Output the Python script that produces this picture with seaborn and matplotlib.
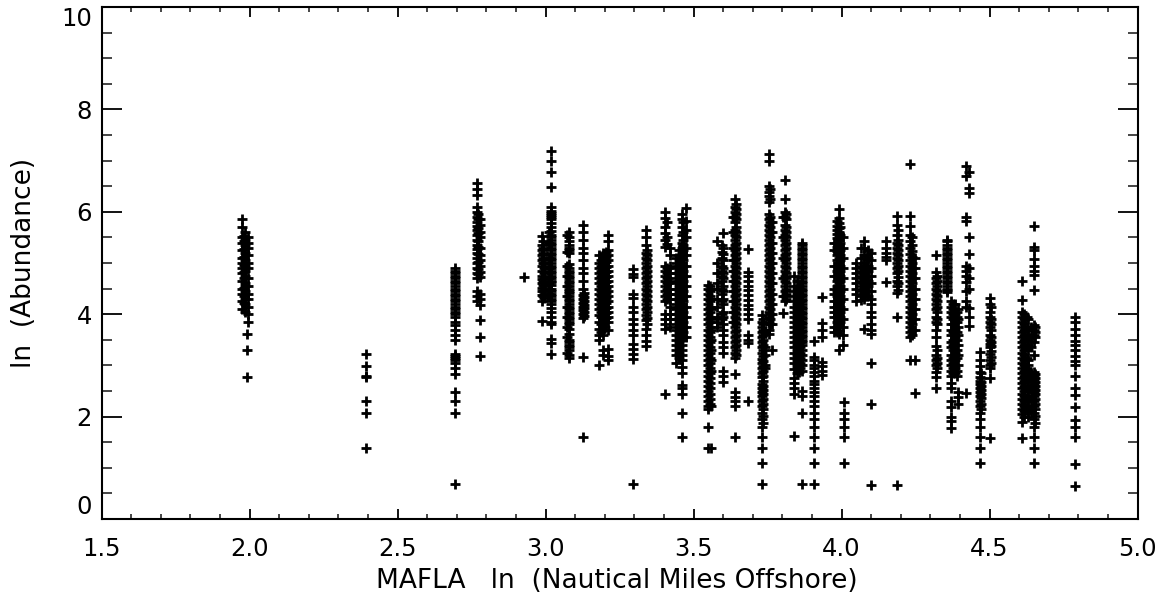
import matplotlib
matplotlib.use("Agg")
import matplotlib.pyplot as plt
import pandas as pd
import seaborn as sns
from matplotlib.ticker import MultipleLocator

# Each column: (ln nautical miles offshore, ln abundance values)
c01 = (1.975, [5.85,5.7,5.5,5.4,5.25,5.1,5.0,4.9,4.8,4.65,4.5,4.4,4.25,4.1])
c02 = (1.985, [5.6,5.45,5.35,5.2,5.05,4.95,4.85,4.75,4.6,4.55,4.45,4.3,4.2,4.05])
c03 = (1.995, [5.5,5.4,5.3,5.15,5.0,4.9,4.7,4.55,4.4,4.3,4.15,4.0,3.85])
c04 = (1.99, [3.62,3.3,2.77])
c05 = (2.394, [3.22,2.99,2.8,2.77,2.3,2.08,1.39])
c06 = (2.695, [4.9,4.85,4.8,4.75,4.7,4.65,4.6,4.55,4.5,4.45,4.4,4.35,4.3,4.25,4.2,4.15,4.1,4.05,4.0,3.95,3.85,3.78,3.7,3.6,3.5,3.22,3.18,3.14,3.1,3.04,2.94,2.83,2.48,2.3,2.08,0.69])
c07 = (2.77, [6.56,6.44,6.33,6.1,6.0,5.9,5.8,5.72,5.65,5.55,5.45,5.35,5.28,5.2,5.1,5.0,4.9,4.8,4.7,4.45,4.35,4.25])
c08 = (2.78, [5.85,5.75,5.6,5.5,5.3,5.15,5.05,4.95,4.82,4.72,4.4,4.3,4.18,3.88,3.56,3.18])
c09 = (2.926, [4.72])
c10 = (2.987, [5.52,5.35,5.25,5.15,5.05,4.95,4.85,4.75,4.68,4.6,4.52,4.45,4.38,4.25,3.86])
c11 = (2.995, [5.0,4.9,4.8,4.7,4.62,4.55,4.48,4.4,4.32])
c12 = (3.02, [7.18,6.99,6.78,6.48,6.1,6.02,5.93,5.85,5.7,5.55,5.45,5.35,5.25,5.15,5.05,4.95,4.85,4.75,4.65,4.58,4.5,4.4,4.3,4.2,4.05,3.85,3.8,3.51,3.44,3.23])
c13 = (3.012, [5.6,5.4,5.1,4.9,4.7,4.6,4.5,4.4])
c14 = (3.078, [5.6,5.5,5.42,5.3,5.2,4.98,4.9,4.8,4.7,4.6,4.5,4.42,4.3,4.2,4.1,4.0,3.9,3.8,3.72,3.62,3.5,3.4,3.3,3.2,3.15])
c15 = (3.072, [5.55,5.22,4.95,4.75,4.55,4.35,4.15,3.95,3.75,3.55,3.25])
c16 = (3.126, [5.75,5.6,5.45,5.3,5.2,5.05,4.9,4.8,4.65,4.5,4.38,4.3,4.22,4.15,4.08,4.0,3.92,3.16,1.6])
c17 = (3.18, [5.15,5.0,4.9,4.8,4.7,4.6,4.5,4.4,4.3,4.2,4.1,3.98,3.85,3.72,3.6,3.5,3.0])
c18 = (3.195, [5.2,5.1,5.0,4.9,4.8,4.7,4.6,4.5,4.4,4.3,4.2,4.1,4.0,3.9,3.8,3.7,3.6,3.3,3.2])
c19 = (3.21, [5.55,5.42,5.25,5.15,5.05,4.95,4.85,4.75,4.65,4.55,4.45,4.35,4.25,4.15,4.05,3.95,3.85,3.7,3.32,3.18,3.1])
c20 = (3.297, [4.88,4.78,4.72,4.4,4.32,4.15,4.05,3.9,3.8,3.7,3.6,3.42,3.32,3.22,3.12,0.69])
c21 = (3.34, [5.65,5.5,5.35,5.2,5.1,5.0,4.9,4.8,4.7,4.6,4.5,4.4,4.3,4.2,4.1,3.98,3.88,3.72,3.6,3.48,3.38])
c22 = (3.403, [6.0,5.88,5.7,5.58,5.45,5.32,4.95,4.85,4.75,4.65,4.55,4.45,4.35,4.25,4.0,3.9,3.8,3.72,2.45])
c23 = (3.42, [5.3,5.15,4.95,4.8,4.65,4.5,4.4,4.3,4.15,4.0,3.9,3.75])
c24 = (3.44, [5.1,5.0,4.9,4.8,4.7,4.6,4.5,4.4,4.3,4.2,4.1,4.0,3.9,3.8,3.7,3.6,3.5,3.4,3.3,3.2,3.05])
c25 = (3.46, [5.95,5.85,5.7,5.55,5.4,5.3,5.2,5.1,5.0,4.9,4.8,4.7,4.6,4.5,4.4,4.3,4.2,4.1,4.0,3.9,3.8,3.7,3.6,3.5,3.4,3.3,3.2,3.1,2.97,2.85,2.62,2.55,2.45,2.08,1.6])
c26 = (3.475, [6.08,5.82,5.65,5.5,5.3,5.15,4.95,4.75,4.55,4.35,4.15,3.95,3.75,3.55])
c27 = (3.55, [4.58,4.5,4.4,4.3,4.2,4.1,4.0,3.9,3.8,3.7,3.6,3.5,3.4,3.3,3.2,3.1,3.0,2.9,2.8,2.7,2.6,2.5,2.4,2.3,2.2,2.15,1.8,1.39])
c28 = (3.56, [4.5,4.3,4.1,3.9,3.7,3.5,3.3,3.1,2.9,2.2,1.39])
c29 = (3.58, [5.42,5.0,4.8,4.6,4.5,4.3,4.15,3.95,3.85,3.75])
c30 = (3.6, [5.58,5.3,5.18,5.05,4.9,4.8,4.7,4.55,4.45,4.3,4.2,4.05,3.95,3.8,3.7,3.6,3.45,3.35,3.25,2.9,2.8,2.68])
c31 = (3.64, [6.25,6.1,6.0,5.9,5.8,5.65,5.55,5.45,5.35,5.25,5.15,5.05,4.95,4.85,4.75,4.65,4.55,4.45,4.35,4.25,4.15,4.05,3.95,3.85,3.75,3.65,3.55,3.45,3.35,3.25,3.14,2.83,2.48,2.38,2.3,2.2,1.6])
c32 = (3.632, [5.9,5.6,5.3,5.05,4.85,4.65,4.45,4.25,4.05,3.85])
c33 = (3.685, [5.28,4.83,4.75,4.65,4.55,4.48,4.38,4.28,4.18,4.1,4.0,3.9,3.6,3.5,3.43,2.3])
c34 = (3.733, [3.98,3.85,3.75,3.65,3.55,3.45,3.35,3.25,3.12,3.04,2.94,2.85,2.77,2.64,2.56,2.48,2.4,2.3,2.2,2.08,1.95,1.79,1.61,1.39,1.1,0.69])
c35 = (3.74, [3.65,3.35,3.2,3.0,2.95])
c36 = (3.755, [7.12,6.99,6.5,6.38,6.3,6.2,5.95,5.85,5.75,5.65,5.55,5.45,5.35,5.25,5.15,5.05,4.95,4.85,4.75,4.65,4.55,4.45,4.35,4.25,4.15,4.05,3.95,3.85,3.7,3.62])
c37 = (3.765, [5.8,5.6,5.4,5.2,5.0,4.8,4.6,4.4,4.2,4.0,3.8,3.3])
c38 = (3.81, [6.62,6.25,6.0,5.9,5.75,5.65,5.55,5.45,5.35,5.25,5.15,5.05,4.95,4.85,4.75,4.65,4.55,4.45,4.35,4.25])
c39 = (3.802, [5.9,5.5,5.1,4.7,4.35,4.02])
c40 = (3.84, [4.75,4.55,4.45,4.35,4.25,4.15,4.05,3.95,3.85,3.75,3.65,3.55,3.45,3.35,3.25,3.15,3.05,2.92,2.75,2.65,2.55,2.45,1.62])
c41 = (3.855, [4.55,4.4,4.2,4.0,3.8,3.6,3.4,3.2,3.0,2.88])
c42 = (3.866, [5.4,5.3,5.2,5.1,5.0,4.9,4.8,4.7,4.6,4.5,4.4,4.3,4.2,4.1,4.0,3.9,3.8,3.7,3.6,3.5,3.4,3.3,3.2,3.1,3.0,2.9,2.5,2.4,2.08,0.69])
c43 = (3.907, [3.47,3.17,3.1,3.0,2.94,2.88,2.8,2.7,2.64,2.56,2.48,2.4,2.3,2.2,2.08,1.95,1.79,1.61,1.39,1.1,0.69])
c44 = (3.935, [4.33,3.83,3.7,3.56,3.07,2.98,2.9,2.81])
c45 = (3.975, [5.4,5.25,4.95,4.75,4.5,4.4,4.25,4.15,4.05,3.95,3.75,3.65])
c46 = (3.99, [6.05,5.88,5.78,5.68,5.6,5.52,5.44,5.36,5.28,5.2,5.1,5.0,4.9,4.8,4.7,4.6,4.5,4.4,4.3,4.2,4.1,4.0,3.9,3.8,3.7,3.62,3.3])
c47 = (4.005, [5.5,5.3,5.1,4.9,4.7,4.5,4.3,4.1,3.9,3.75,3.6,3.4])
c48 = (4.008, [2.28,2.08,1.95,1.79,1.6,1.1])
c49 = (4.05, [5.0,4.9,4.8,4.7,4.6,4.5,4.4,4.25])
c50 = (4.075, [5.42,5.3,5.15,5.0,4.9,4.8,4.7,4.6,4.5,4.4,4.3,3.72])
c51 = (4.09, [5.25,5.1,4.95,4.85,4.75,4.65,4.55,4.45,4.35])
c52 = (4.1, [5.2,5.05,4.9,4.75,4.6,4.45,4.3,4.2,4.05,3.95,3.8,3.7,3.62,3.05,2.25,0.67])
c53 = (4.149, [5.42,5.3,5.2,5.12,5.05,4.62])
c54 = (4.188, [5.92,5.75,5.55,5.4,5.3,5.2,5.1,5.0,4.9,4.8,4.65,4.55,4.42,3.94,0.67])
c55 = (4.233, [6.93,5.92,5.72,5.55,5.42,5.3,5.18,5.05,4.95,4.85,4.75,4.65,4.55,4.45,4.35,4.25,4.15,4.05,3.95,3.85,3.75,3.65,3.55,3.1])
c56 = (4.247, [5.1,4.9,4.7,4.5,4.3,4.1,3.9,3.7,3.1,2.46])
c57 = (4.32, [5.15,4.82,4.7,4.6,4.5,4.4,4.3,4.2,4.1,3.95,3.85,3.7,3.55,3.37,3.2,3.1,3.0,2.88,2.78,2.55])
c58 = (4.357, [5.42,5.3,5.2,5.1,5.0,4.9,4.8,4.7,4.6,4.5,4.44])
c59 = (4.37, [4.25,4.15,4.05,3.95,3.8,3.7,3.6,3.45,3.35,3.2,3.1,3.0,2.9,2.8,2.65,2.55,2.3,2.18,2.0,1.92,1.77])
c60 = (4.385, [4.2,4.0,3.85,3.7,3.55,3.4,3.25,3.1,2.95,2.85])
c61 = (4.395, [4.1,3.9,3.75,3.6,3.4,3.2,3.0,2.48,2.38,2.25])
c62 = (4.42, [6.9,6.7,5.9,5.82,4.95,4.85,4.75,4.62,4.45,4.25,4.15,2.46])
c63 = (4.43, [6.78,6.47,6.37,5.5,5.18,4.9,4.7,4.5,4.12,3.95,3.76])
c64 = (4.467, [3.27,3.1,2.98,2.88,2.77,2.7,2.64,2.56,2.48,2.4,2.3,2.2,2.08,1.95,1.79,1.61,1.39,1.1])
c65 = (4.503, [4.32,4.2,4.05,3.95,3.85,3.75,3.6,3.5,3.42,3.35,3.22,3.1,3.0,2.94,2.75,1.59])
c66 = (4.61, [4.64,4.28,4.05,3.95,3.85,3.75,3.65,3.55,3.45,3.35,3.25,3.15,3.05,2.95,2.85,2.75,2.65,2.55,2.45,2.35,2.25,2.15,2.05,1.9,1.59])
c67 = (4.625, [3.95,3.75,3.55,3.35,3.15,2.95,2.75,2.55,2.35,2.15])
c68 = (4.65, [5.72,5.32,5.26,5.07,4.95,4.85,4.77,4.48,3.79,3.7,3.6,3.46,3.2,2.88,2.8,2.72,2.64,2.56,2.48,2.4,2.3,2.2,2.08,1.95,1.79,1.61,1.39,1.1])
c69 = (4.64, [3.75,3.55,3.35,2.85,2.7,2.5,2.3,2.1])
c70 = (4.79, [3.95,3.85,3.72,3.6,3.48,3.4,3.3,3.18,3.08,3.0,2.8,2.55,2.42,2.18,1.93,1.79,1.61,1.08,0.65])

# Further stations read from the solid parts of the densest stacks
d01 = (1.98, [5.52,5.42,5.28,5.12,4.97,4.82,4.7,4.52,4.35,4.22])
d02 = (2.772, [5.95,5.85,5.68,5.58,5.42,5.32,5.18,5.02,4.88,4.78])
d03 = (2.992, [5.42,5.3,5.2,5.1,5.0,4.65,4.57,4.45,4.35])
d04 = (3.018, [5.98,5.9,5.78,5.62,5.5,5.4,5.3,5.2,5.1,5.0,4.9,4.8,4.7,4.62,4.45,4.35,4.25,4.12,3.95])
d05 = (3.08, [5.35,5.25,4.85,4.75,4.65,4.55,4.45,4.35,4.25,4.15,4.05,3.95,3.85,3.45,3.35])
d06 = (3.13, [4.42,4.34,4.26,4.18,4.12,4.04,3.96])
d07 = (3.188, [5.05,4.95,4.85,4.75,4.65,4.55,4.45,4.35,4.25,4.15,4.05,3.95,3.8,3.65])
d08 = (3.2, [5.15,5.05,4.95,4.85,4.75,4.65,4.55,4.45,4.35,4.25,4.15,4.05,3.95,3.85,3.75])
d09 = (3.205, [5.22,5.12,5.02,4.92,4.82,4.72,4.62,4.52,4.42,4.32,4.22,4.12,4.02,3.92])
d10 = (3.342, [5.25,5.15,5.05,4.95,4.85,4.75,4.65,4.55,4.45,4.35,4.25,4.15,4.05,3.93,3.8])
d11 = (3.41, [4.9,4.8,4.7,4.6,4.5,4.4,4.3,5.8,5.5,5.38])
d12 = (3.45, [5.25,5.15,5.05,4.95,4.85,4.75,4.65,4.55,4.45,4.35,4.25,4.15,4.05,3.95,3.85,3.75,3.65,3.55,3.45,3.35,3.25,3.15])
d13 = (3.465, [5.8,5.6,5.45,5.35,5.25,5.15,5.05,4.95,4.85,4.75,4.65,4.55,4.45,4.35,4.25,4.15,4.05,3.95,3.85,3.75,3.65,3.55])
d14 = (3.555, [4.55,4.45,4.35,4.25,4.15,4.05,3.95,3.85,3.75,3.65,3.55,3.45,3.35,3.25,3.15,3.05,2.95,2.85,2.75,2.65,2.55,2.45,2.35,2.25])
d15 = (3.595, [5.35,5.22,5.1,4.95,4.85,4.75,4.65,4.5,4.4,4.25,4.0,3.9])
d16 = (3.645, [6.15,6.05,5.95,5.85,5.7,5.6,5.5,5.4,5.3,5.2,5.1,5.0,4.9,4.8,4.7,4.6,4.5,4.4,4.3,4.2,4.1,4.0,3.9,3.8,3.7,3.6,3.5,3.4,3.3,3.2])
d17 = (3.735, [3.9,3.8,3.7,3.6,3.5,3.4,3.3,3.18,3.08,2.98,2.9,2.8,2.7,2.6,2.52,2.44,2.35,2.25,2.14,2.02,1.87])
d18 = (3.758, [5.9,5.8,5.7,5.6,5.5,5.4,5.3,5.2,5.1,5.0,4.9,4.8,4.7,4.6,4.5,4.4,4.3,4.2,4.1,4.0,3.9,3.8,6.45,6.25])
d19 = (3.812, [5.95,5.85,5.7,5.6,5.5,5.4,5.3,5.2,5.1,5.0,4.9,4.8,4.7,4.6,4.5,4.4,4.3])
d20 = (3.848, [4.65,4.5,4.4,4.3,4.2,4.1,4.0,3.9,3.8,3.7,3.6,3.5,3.4,3.3,3.2,3.1,3.0,2.95,2.85])
d21 = (3.86, [4.5,4.35,4.25,4.15,4.05,3.95,3.85,3.75,3.65,3.55,3.45,3.35,3.25,3.15,3.05,2.95])
d22 = (3.868, [5.35,5.25,5.15,5.05,4.95,4.85,4.75,4.65,4.55,4.45,4.35,4.25,4.15,4.05,3.95,3.85,3.75,3.65,3.55,3.45])
d23 = (3.985, [5.82,5.72,5.64,5.56,5.48,5.4,5.32,5.24,5.15,5.05,4.95,4.85,4.75,4.65,4.55,4.45,4.35,4.25,4.15,4.05,3.95,3.85,3.75,3.65])
d24 = (3.995, [5.7,5.55,5.4,5.25,5.15,5.05,4.95,4.85,4.75,4.65,4.55,4.45,4.35,4.25,4.15,4.05,3.95,3.85])
d25 = (4.065, [5.3,5.1,4.95,4.85,4.75,4.65,4.55,4.45,4.35,4.28])
d26 = (4.085, [5.15,5.05,4.95,4.85,4.75,4.65,4.55,4.45,4.35])
d27 = (4.19, [5.65,5.45,5.35,5.25,5.15,5.05,4.95,4.85,4.72,4.6,4.48])
d28 = (4.238, [5.5,5.36,5.24,5.12,5.0,4.9,4.8,4.7,4.6,4.5,4.4,4.3,4.2,4.1,4.0,3.9,3.8,3.7,3.6])
d29 = (4.322, [4.75,4.65,4.55,4.45,4.35,4.25,4.15,4.05,3.9,3.8,3.3,3.15,3.05,2.95])
d30 = (4.355, [5.35,5.25,5.15,5.05,4.95,4.85,4.75,4.65,4.55,4.47,5.45])
d31 = (4.378, [4.2,4.1,4.0,3.9,3.8,3.65,3.5,3.4,3.3,3.15,3.05,2.95,2.85])
d32 = (4.39, [4.05,3.95,3.85,3.65,3.5,3.3,3.15,2.9,2.8])
d33 = (4.47, [2.85,2.75,2.67,2.6,2.52,2.44,2.36,2.25,2.14])
d34 = (4.505, [4.15,3.9,3.8,3.7,3.55,3.46,3.38,3.28,3.16,3.05])
d35 = (4.615, [4.0,3.9,3.8,3.7,3.6,3.5,3.4,3.3,3.2,3.1,3.0,2.9,2.8,2.7,2.6,2.5,2.4,2.3,2.2,2.1,2.0])
d36 = (4.63, [3.9,3.7,3.6,3.5,3.4,3.3,3.1,3.0,2.9,2.8,2.7,2.6,2.5,2.4,2.3,2.2,2.1,2.0])
d37 = (4.655, [3.75,3.65,3.55,2.84,2.76,2.68,2.6,2.52,2.44,2.35,2.25,2.14,2.02,1.87])

columns = [c01,c02,c03,c04,c05,c06,c07,c08,c09,c10,c11,c12,c13,c14,c15,c16,c17,c18,c19,c20,
           c21,c22,c23,c24,c25,c26,c27,c28,c29,c30,c31,c32,c33,c34,c35,c36,c37,c38,c39,c40,
           c41,c42,c43,c44,c45,c46,c47,c48,c49,c50,c51,c52,c53,c54,c55,c56,c57,c58,c59,c60,
           c61,c62,c63,c64,c65,c66,c67,c68,c69,c70,
           d01,d02,d03,d04,d05,d06,d07,d08,d09,d10,d11,d12,d13,d14,d15,d16,d17,d18,d19,d20,
           d21,d22,d23,d24,d25,d26,d27,d28,d29,d30,d31,d32,d33,d34,d35,d36,d37]

df = pd.DataFrame(
    [(x, y) for x, ys in columns for y in ys], columns=["miles", "abundance"]
)

sns.set_style("white")
plt.rcParams["font.family"] = ["DejaVu Sans"]

W, H = 1165, 601
fig = plt.figure(figsize=(W / 100, H / 100), dpi=100)
ax = fig.add_axes([101.5 / W, 1 - 519 / H, 1036 / W, 512 / H])

sns.scatterplot(data=df, x="miles", y="abundance", marker="+", color="black",
                s=58, linewidth=2.0, ax=ax, clip_on=False, zorder=3)

ax.set_xlim(1.5, 5.0)
ax.set_ylim(0, 10)
ax.xaxis.set_minor_locator(MultipleLocator(0.1))
ax.yaxis.set_minor_locator(MultipleLocator(0.5))
ax.set_xticks([1.5, 2.0, 2.5, 3.0, 3.5, 4.0, 4.5, 5.0])
ax.set_xticklabels(["1.5", "2.0", "2.5", "3.0", "3.5", "4.0", "4.5", "5.0"])
ax.set_yticks([0, 2, 4, 6, 8, 10])
ax.set_yticklabels(["0", "2", "4", "6", "8", "10"])

ax.tick_params(axis="x", which="major", direction="in", top=True, bottom=True,
               length=7.5, width=1.3, labelsize=17.5, pad=13, colors="black")
ax.tick_params(axis="x", which="minor", direction="in", top=True, bottom=True,
               length=3.8, width=1.2)
ax.tick_params(axis="y", which="major", direction="in", left=True, right=True,
               length=14.5, width=1.3, labelsize=17.5, pad=7, colors="black")
ax.tick_params(axis="y", which="minor", direction="in", left=True, right=True,
               length=7.2, width=1.2)
labels = ax.get_yticklabels()
labels[0].set_verticalalignment("bottom")
labels[-1].set_verticalalignment("top")

for s in ax.spines.values():
    s.set_visible(True)
    s.set_color("black")
    s.set_linewidth(1.5)

ax.set_xlabel("")
ax.set_ylabel("")
fig.text(617 / W, 1 - 581 / H, "MAFLA   ln  (Nautical Miles Offshore)", ha="center",
         va="center", fontsize=19, color="black")
fig.text(24 / W, 1 - 263 / H, "ln  (Abundance)", rotation=90, ha="center",
         va="center", fontsize=19, color="black")

fig.savefig("out.png", dpi=100, facecolor="white")
